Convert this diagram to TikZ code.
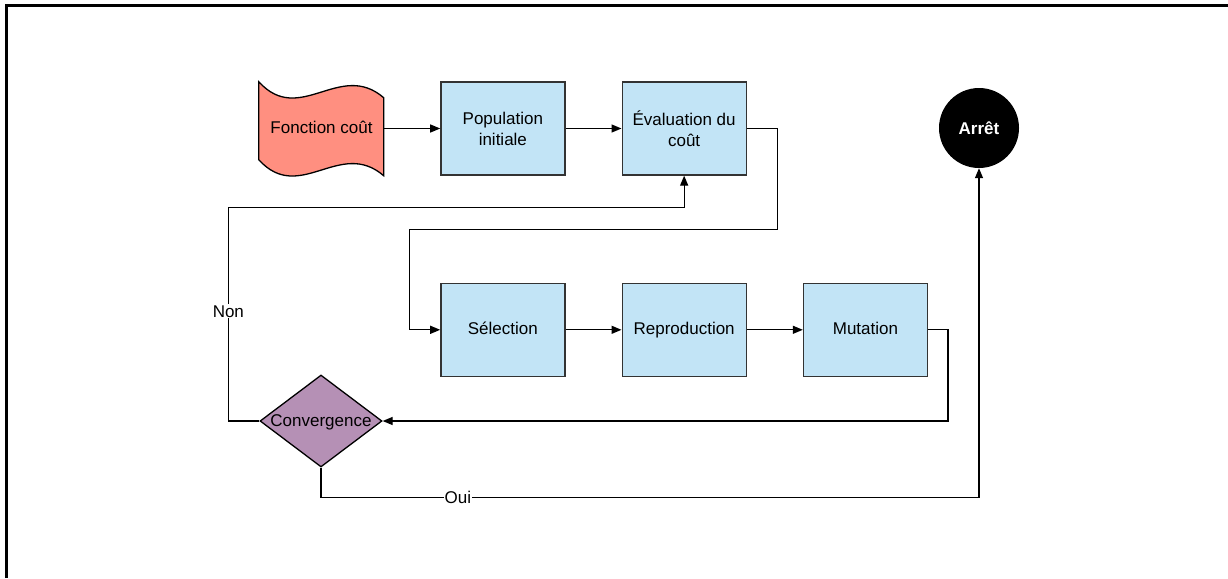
\documentclass[tikz,border=0pt]{standalone}
\usepackage{fontspec}
\setmainfont{Liberation Sans}
\usetikzlibrary{positioning,shapes.geometric,arrows.meta,calc}
\definecolor{salmon}{HTML}{FF8F80}
\definecolor{sky}{HTML}{C2E4F6}
\definecolor{mauve}{HTML}{B590B5}
\definecolor{edge}{HTML}{333333}
\tikzset{
  txt/.style={font=\fontsize{17}{21}\selectfont},
  box/.style={rectangle,draw=edge,fill=sky,line width=1.3pt,align=center,
    minimum width=124pt,minimum height=93pt,inner sep=2pt,txt},
  one/.style={text height=12pt,text depth=2pt},
  dec/.style={diamond,draw=black,fill=mauve,line width=1.3pt,aspect=1.33,
    minimum width=122pt,minimum height=92pt,inner sep=0pt},
  fin/.style={circle,fill=black,text=white,minimum size=80pt,inner sep=0pt,
    txt,font=\fontsize{17}{21}\selectfont\bfseries},
  fl/.style={-{Triangle[length=10pt,width=8pt]},draw=black,line width=1.3pt},
  lbl/.style={fill=white,inner sep=1pt,txt},
}
\begin{document}
\begin{tikzpicture}[x=1pt,y=-1pt,node distance=57pt and 57pt]
  \useasboundingbox (0,0) rectangle (1228,578);
  \draw[line width=3pt] (6.5,578) -- (6.5,5.5) -- (1228,5.5);
  % cost function (wavy tape)
  \node[minimum width=125pt,minimum height=93pt,inner sep=0pt] (fn) at (321.5,128.5) {};
  \begin{scope}[shift={(fn.north west)}]
    \draw[fill=salmon,draw=black,line width=1.3pt]
      (0,0) .. controls (41,45) and (81,-22) .. (125,16) -- (125,94)
      .. controls (81,56) and (41,123) .. (0,78) -- cycle;
  \end{scope}
  \node[txt,one] at (fn) {Fonction coût};
  \node[box,right=56pt of fn] (pop) {Population\\initiale};
  \node[box,right=56pt of pop] (ev) {Évaluation du\\coût};
  \node[fin] (stop) at (979,128) {Arrêt};
  \node[box,one,below=107pt of pop] (sel) {Sélection};
  \node[box,one,right=56pt of sel] (rep) {Reproduction};
  \node[box,one,right=56pt of rep] (mut) {Mutation};
  \node[dec] (conv) at (321,421) {};
  \node[txt,one] at (conv) {Convergence};
  \draw[fl] (fn) -- (pop);
  \draw[fl] (pop) -- (ev);
  \draw[fl] (ev.east) -- ++(31,0) -- ++(0,101) -| ($(sel.west)+(-31,0)$) -- (sel.west);
  \draw[fl] (sel) -- (rep);
  \draw[fl] (rep) -- (mut);
  \draw[fl] (mut.east) -- ++(20,0) |- (conv.east);
  \draw[fl] (conv.west) -- ++(-31,0) |- node[pos=0.257,lbl]{Non} ($(ev.south)+(0,32)$) -- (ev.south);
  \draw[fl] (conv.south) -- ++(0,30) -| node[pos=0.104,lbl]{Oui} (stop.south);
\end{tikzpicture}
\end{document}
